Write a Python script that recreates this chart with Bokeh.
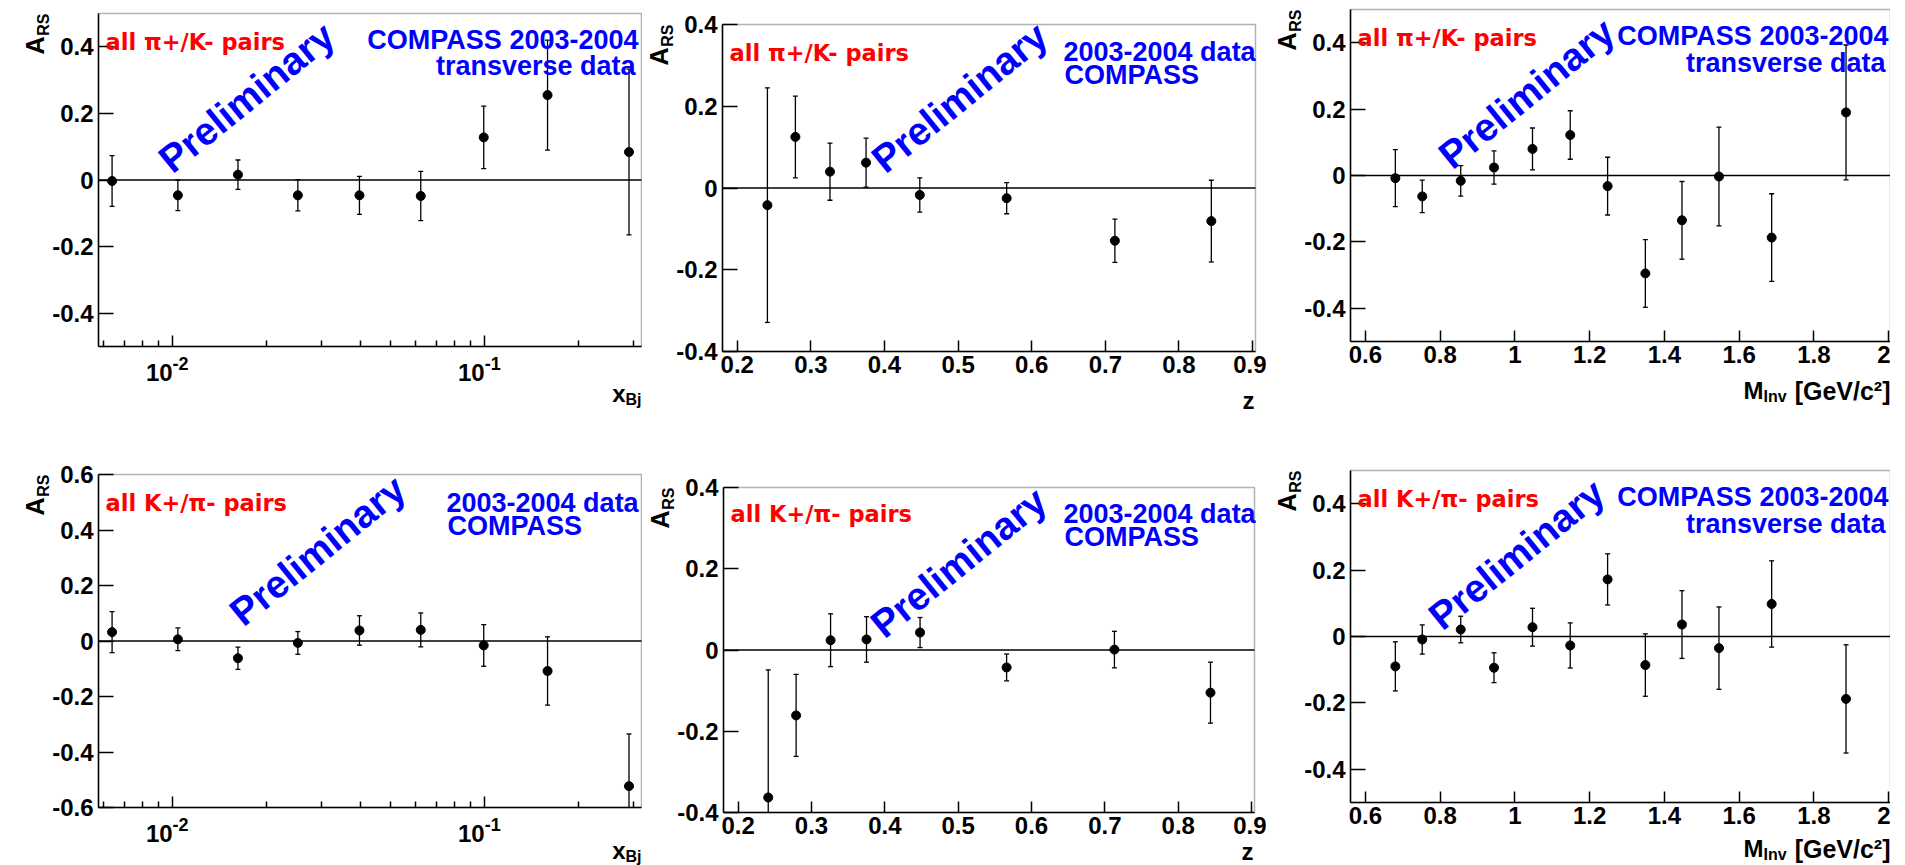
import math
from bokeh.plotting import figure
from bokeh.models import (Range1d, FixedTicker, Label, ColumnDataSource, LinearAxis,
                          LogAxis, BoxAnnotation)
from bokeh.layouts import column, row
from bokeh.embed import file_html
from bokeh.resources import INLINE

FONT = "Liberation Sans"
RED_FONT = "DejaVu Sans"

# ---------------- data ----------------
xbj = [0.0064, 0.0104, 0.0162, 0.0252, 0.0397, 0.0624, 0.0993, 0.159, 0.290]
a_xbj_pik = [-0.003, -0.046, 0.016, -0.046, -0.046, -0.048, 0.128, 0.255, 0.084]
e_xbj_pik = [0.076, 0.046, 0.044, 0.047, 0.057, 0.074, 0.094, 0.165, 0.249]
a_xbj_kpi = [0.032, 0.006, -0.062, -0.007, 0.038, 0.040, -0.016, -0.108, -0.523]
e_xbj_kpi = [0.074, 0.041, 0.040, 0.041, 0.053, 0.061, 0.075, 0.123, 0.188]

zval = [0.241, 0.279, 0.326, 0.375, 0.448, 0.566, 0.713, 0.844]
a_z_pik = [-0.042, 0.125, 0.040, 0.062, -0.017, -0.025, -0.129, -0.081]
e_z_pik = [0.287, 0.100, 0.070, 0.060, 0.042, 0.038, 0.053, 0.100]
a_z_kpi = [-0.363, -0.161, 0.024, 0.026, 0.043, -0.043, 0.001, -0.105]
e_z_kpi = [0.314, 0.101, 0.065, 0.056, 0.037, 0.033, 0.045, 0.075]

minv = [0.680, 0.752, 0.855, 0.944, 1.047, 1.148, 1.248, 1.349, 1.447, 1.546, 1.687, 1.886]
a_m_pik = [-0.008, -0.063, -0.016, 0.024, 0.080, 0.122, -0.032, -0.295, -0.135, -0.003, -0.187, 0.190]
e_m_pik = [0.086, 0.049, 0.046, 0.050, 0.063, 0.073, 0.087, 0.102, 0.117, 0.149, 0.132, 0.203]
a_m_kpi = [-0.090, -0.009, 0.021, -0.094, 0.028, -0.027, 0.172, -0.086, 0.036, -0.035, 0.098, -0.188]
e_m_kpi = [0.074, 0.044, 0.040, 0.045, 0.057, 0.068, 0.077, 0.094, 0.102, 0.124, 0.130, 0.163]

# ---------------- ticks ----------------
y_ticks_05 = [-0.4, -0.2, 0, 0.2, 0.4]
y_labels_05 = ["-0.4", "-0.2", "0", "0.2", "0.4"]
y_ticks_06 = [-0.6, -0.4, -0.2, 0, 0.2, 0.4, 0.6]
y_labels_06 = ["-0.6", "-0.4", "-0.2", "0", "0.2", "0.4", "0.6"]
log_ticks = [0.01, 0.1]
log_exps = ["-2", "-1"]
log_minor = [0.006, 0.007, 0.008, 0.009, 0.02, 0.03, 0.04, 0.05, 0.06, 0.07, 0.08, 0.09, 0.2, 0.3]
z_ticks = [0.2, 0.3, 0.4, 0.5, 0.6, 0.7, 0.8, 0.9]
z_labels = ["0.2", "0.3", "0.4", "0.5", "0.6", "0.7", "0.8", "0.9"]
m_ticks = [0.6, 0.8, 1, 1.2, 1.4, 1.6, 1.8, 2]
m_labels = ["0.6", "0.8", "1", "1.2", "1.4", "1.6", "1.8", "2"]

RED_PIK = "all \u03c0+/K- pairs"
RED_KPI = "all K+/\u03c0- pairs"
BLUE_A = ["COMPASS 2003-2004", "transverse data"]
BLUE_B = ["2003-2004 data", "COMPASS"]


def build(spec):
    W, H = spec["fw"], spec["fh"]
    bl, bt, cw, ch = spec["bl"], spec["bt"], spec["cw"], spec["ch"]
    x0, x1 = spec["xr"]
    y0, y1 = spec["yr"]
    log = spec["log"]

    def conv(px, py):
        # px, py: pixel offsets from the top-left corner of the drawn frame
        if log:
            lx = math.log10(x0) + px / W * (math.log10(x1) - math.log10(x0))
            x = 10 ** lx
        else:
            x = x0 + px / W * (x1 - x0)
        y = y1 - py / H * (y1 - y0)
        return x, y

    ex0 = conv(-bl, 0)[0]
    ex1 = conv(cw - bl, 0)[0]
    ey1 = conv(0, -bt)[1]
    ey0 = conv(0, ch - bt)[1]

    p = figure(width=cw, height=ch, title=None,
               x_axis_type="log" if log else "linear",
               x_axis_location=None, y_axis_location=None,
               x_range=Range1d(ex0, ex1), y_range=Range1d(ey0, ey1),
               output_backend="svg", toolbar_location=None,
               min_border=0, min_border_left=0, min_border_right=0,
               min_border_top=0, min_border_bottom=0)
    p.xgrid.visible = False
    p.ygrid.visible = False
    p.background_fill_color = "white"
    p.border_fill_color = "white"
    p.outline_line_color = None

    def add(px, py, text, size, color="black", align="left", baseline="alphabetic",
            angle=0.0, font=FONT, x=None):
        xx, yy = conv(px, py)
        if x is not None:
            xx = x
        p.add_layout(Label(x=xx, y=yy, text=text, text_font=font,
                           text_font_size=f"{size}px", text_font_style="bold",
                           text_color=color, text_align=align, text_baseline=baseline,
                           angle=angle))

    # frame box
    p.add_layout(BoxAnnotation(left=x0, right=x1, bottom=y0, top=y1, fill_color=None,
                               fill_alpha=0, line_color="black", line_width=1.5,
                               level="underlay"))

    # axes fixed on the frame edges
    if log:
        xa = LogAxis(fixed_location=y0, bounds=(x0, x1))
    else:
        xa = LinearAxis(fixed_location=y0, bounds=(x0, x1))
    ya = LinearAxis(fixed_location=x0, bounds=(y0, y1))
    for ax in (xa, ya):
        ax.axis_line_color = "black"
        ax.axis_line_width = 1.5
        ax.major_tick_line_color = "black"
        ax.major_tick_line_width = 1.5
        ax.minor_tick_line_color = "black"
        ax.minor_tick_line_width = 1.5
        ax.major_tick_out = 0
        ax.minor_tick_out = 0
        ax.major_label_text_font = FONT
        ax.major_label_text_font_style = "bold"
        ax.major_label_text_font_size = "24px"
        ax.major_label_text_color = "black"
    ya.ticker = FixedTicker(ticks=spec["yt"], minor_ticks=[])
    ya.major_label_overrides = dict(zip(spec["yt"], spec["ytl"]))
    ya.major_tick_in = 15
    ya.major_label_standoff = 5
    xa.ticker = FixedTicker(ticks=spec["xt"], minor_ticks=spec["xminor"])
    xa.major_label_overrides = dict(zip(spec["xt"], spec["xtl"]))
    xa.major_tick_in = 11
    xa.minor_tick_in = 6
    xa.major_label_standoff = 4
    p.add_layout(xa, "below")
    p.add_layout(ya, "left")

    # zero line across the frame
    p.segment(x0=[x0], y0=[0], x1=[x1], y1=[0], line_color="black", line_width=1.5)

    xs, ys, es = spec["data"]
    lo = [v - e for v, e in zip(ys, es)]
    hi = [v + e for v, e in zip(ys, es)]
    src = ColumnDataSource(dict(x=xs, y=ys,
                                lo=[max(v, y0) for v in lo],
                                hi=[min(v, y1) for v in hi]))
    p.segment(x0="x", y0="lo", x1="x", y1="hi", source=src, line_color="black", line_width=1.3)
    cap_lo = [(x, v) for x, v in zip(xs, lo) if v >= y0]
    cap_hi = [(x, v) for x, v in zip(xs, hi) if v <= y1]
    p.scatter(x=[c[0] for c in cap_lo], y=[c[1] for c in cap_lo], marker="dash", size=5,
              line_color="black", line_width=1.3)
    p.scatter(x=[c[0] for c in cap_hi], y=[c[1] for c in cap_hi], marker="dash", size=5,
              line_color="black", line_width=1.3)
    p.scatter(x="x", y="y", marker="circle", size=9, fill_color="black", line_color="black",
              source=src)

    # log axis labels 10^n
    if log:
        for t, ex in zip(log_ticks, log_exps):
            add(0, H + 26, "10", 24, align="right", x=t)
            add(0, H + 17, ex, 18, align="left", x=t)

    # red header
    add(7, spec["red_dy"], spec["red"], 22.5, "#ff0000", font=RED_FONT)
    # blue header
    for (px, py, txt, al) in spec["blue"]:
        add(px, py, txt, 27, "#0000ff", align=al)
    # Preliminary
    cx, cy = spec["prelim"]
    add(cx, cy, "Preliminary", 39, "#0000ff", align="center", baseline="middle",
        angle=math.radians(39))
    # y title A_RS
    add(-55, 0, "RS", 16, align="right", angle=math.pi / 2)
    add(-64, 23, "A", 25, align="right", angle=math.pi / 2)
    # x title
    kind = spec["xtitle"]
    d = spec["tdy"]
    if kind == "xbj":
        add(W - 16, H + d, "x", 24, align="right")
        add(W, H + d + 6, "Bj", 16, align="right")
    elif kind == "z":
        add(W - 1, H + d, "z", 24, align="right")
    else:
        add(W - 127, H + d, "M", 24, align="right")
        add(W - 127, H + d + 6, "Inv", 16, align="left")
        add(W, H + d, "[GeV/c\u00b2]", 25, align="right")
    return p


XR_LOG = (0.00579, 0.318)
XR_Z = (0.18, 0.904)
XR_M = (0.56, 2.005)

specs = [
    dict(cw=642, ch=430, bl=98, bt=13, fw=543, fh=333, log=True, xr=XR_LOG, yr=(-0.5, 0.5),
         yt=y_ticks_05, ytl=y_labels_05, xt=log_ticks, xtl=["", ""], xminor=log_minor,
         data=(xbj, a_xbj_pik, e_xbj_pik), red=RED_PIK, red_dy=28,
         blue=[(540, 26, BLUE_A[0], "right"), (537, 52, BLUE_A[1], "right")],
         prelim=(148, 84), xtitle="xbj", tdy=47),
    dict(cw=624, ch=430, bl=80, bt=24, fw=533, fh=327, log=False, xr=XR_Z, yr=(-0.4, 0.4),
         yt=y_ticks_05, ytl=y_labels_05, xt=z_ticks, xtl=z_labels, xminor=[],
         data=(zval, a_z_pik, e_z_pik), red=RED_PIK, red_dy=28,
         blue=[(341, 27, BLUE_B[0], "left"), (342, 50, BLUE_B[1], "left")],
         prelim=(237, 73), xtitle="z", tdy=49),
    dict(cw=624, ch=430, bl=84, bt=9, fw=540, fh=332, log=False, xr=XR_M, yr=(-0.5, 0.5),
         yt=y_ticks_05, ytl=y_labels_05, xt=m_ticks, xtl=m_labels, xminor=[],
         data=(minv, a_m_pik, e_m_pik), red=RED_PIK, red_dy=28,
         blue=[(538, 26, BLUE_A[0], "right"), (535, 53, BLUE_A[1], "right")],
         prelim=(176, 84), xtitle="m", tdy=49),
    dict(cw=642, ch=435, bl=98, bt=44, fw=543, fh=333, log=True, xr=XR_LOG, yr=(-0.6, 0.6),
         yt=y_ticks_06, ytl=y_labels_06, xt=log_ticks, xtl=["", ""], xminor=log_minor,
         data=(xbj, a_xbj_kpi, e_xbj_kpi), red=RED_KPI, red_dy=28,
         blue=[(348, 28, BLUE_B[0], "left"), (349, 51, BLUE_B[1], "left")],
         prelim=(219, 76), xtitle="xbj", tdy=43),
    dict(cw=624, ch=435, bl=81, bt=57, fw=531, fh=325, log=False, xr=XR_Z, yr=(-0.4, 0.4),
         yt=y_ticks_05, ytl=y_labels_05, xt=z_ticks, xtl=z_labels, xminor=[],
         data=(zval, a_z_kpi, e_z_kpi), red=RED_KPI, red_dy=26,
         blue=[(340, 26, BLUE_B[0], "left"), (341, 49, BLUE_B[1], "left")],
         prelim=(235, 75), xtitle="z", tdy=39),
    dict(cw=624, ch=435, bl=84, bt=40, fw=540, fh=332, log=False, xr=XR_M, yr=(-0.5, 0.5),
         yt=y_ticks_05, ytl=y_labels_05, xt=m_ticks, xtl=m_labels, xminor=[],
         data=(minv, a_m_kpi, e_m_kpi), red=RED_KPI, red_dy=28,
         blue=[(538, 26, BLUE_A[0], "right"), (535, 53, BLUE_A[1], "right")],
         prelim=(166, 84), xtitle="m", tdy=46),
]

figs = [build(s) for s in specs]
layout = column(row(figs[0], figs[1], figs[2]), row(figs[3], figs[4], figs[5]))

open("out.html", "w").write(file_html(layout, INLINE))
